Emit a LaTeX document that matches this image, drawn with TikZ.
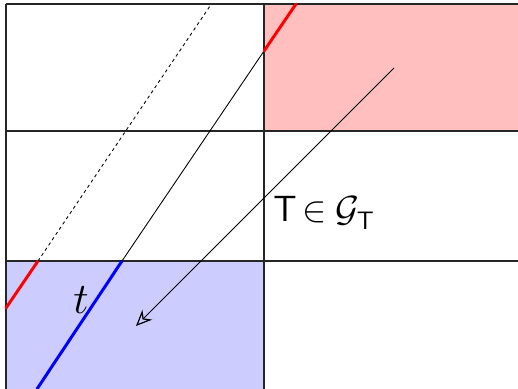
\documentclass[tikz,border=0pt]{standalone}
\usepackage{amsmath,amssymb}
\usepackage{tikz}
\usetikzlibrary{arrows.meta}

\begin{document}
\begin{tikzpicture}[
  x=0.02cm,y=-0.02cm,
  cellline/.style={line width=0.8pt,black!85},
  worldline/.style={line width=1.7pt,line cap=round},
  thinline/.style={line width=0.5pt},
  flow/.style={-{Stealth[open,length=3.2mm,width=2.8mm,line width=0.7pt]},line width=0.5pt},
  label/.style={font=\fontsize{21}{25}\selectfont,inner sep=0pt}
]
\useasboundingbox (0,0) rectangle (518,389);
\clip (0,0) rectangle (518,389);
% shaded cells
\fill[red!25] (264,4) rectangle (530,131);
\fill[blue!20] (6,261) rectangle (264,400);
% grid
\foreach \yy in {4,131,261}
  \draw[cellline] (6,\yy) -- (530,\yy);
\foreach \xx in {6,264}
  \draw[cellline] (\xx,4) -- (\xx,400);
% first trajectory
\coordinate (a0) at (6,308);
\coordinate (a1) at (38,261);
\coordinate (a2) at (210,6);
\draw[worldline,red] (a0) -- (a1);
\draw[thinline,dash pattern=on 1.8pt off 1.8pt] (a1) -- (a2);
% second trajectory
\coordinate (b0) at (37,389);
\coordinate (b1) at (122,261);
\coordinate (b2) at (264,51);
\coordinate (b3) at (296,4);
\draw[worldline,blue] (b0) -- (b1);
\draw[thinline] (b1) -- (b2);
\draw[worldline,red] (b2) -- (b3);
% map
\coordinate (m0) at (394,68);
\coordinate (m1) at (136,326);
\draw[flow] (m0) -- (m1);
% labels
\node[label,anchor=base west] (tg) at (273,221) {$\mathsf{T}\mkern-2mu\in\mkern-1mu\mathcal{G}_{\raisebox{-2pt}{$\scriptstyle\mathsf{T}$}}$};
\node[label,font=\fontsize{23}{27}\selectfont] (tl) at (81,300) {$t$};
\end{tikzpicture}
\end{document}
